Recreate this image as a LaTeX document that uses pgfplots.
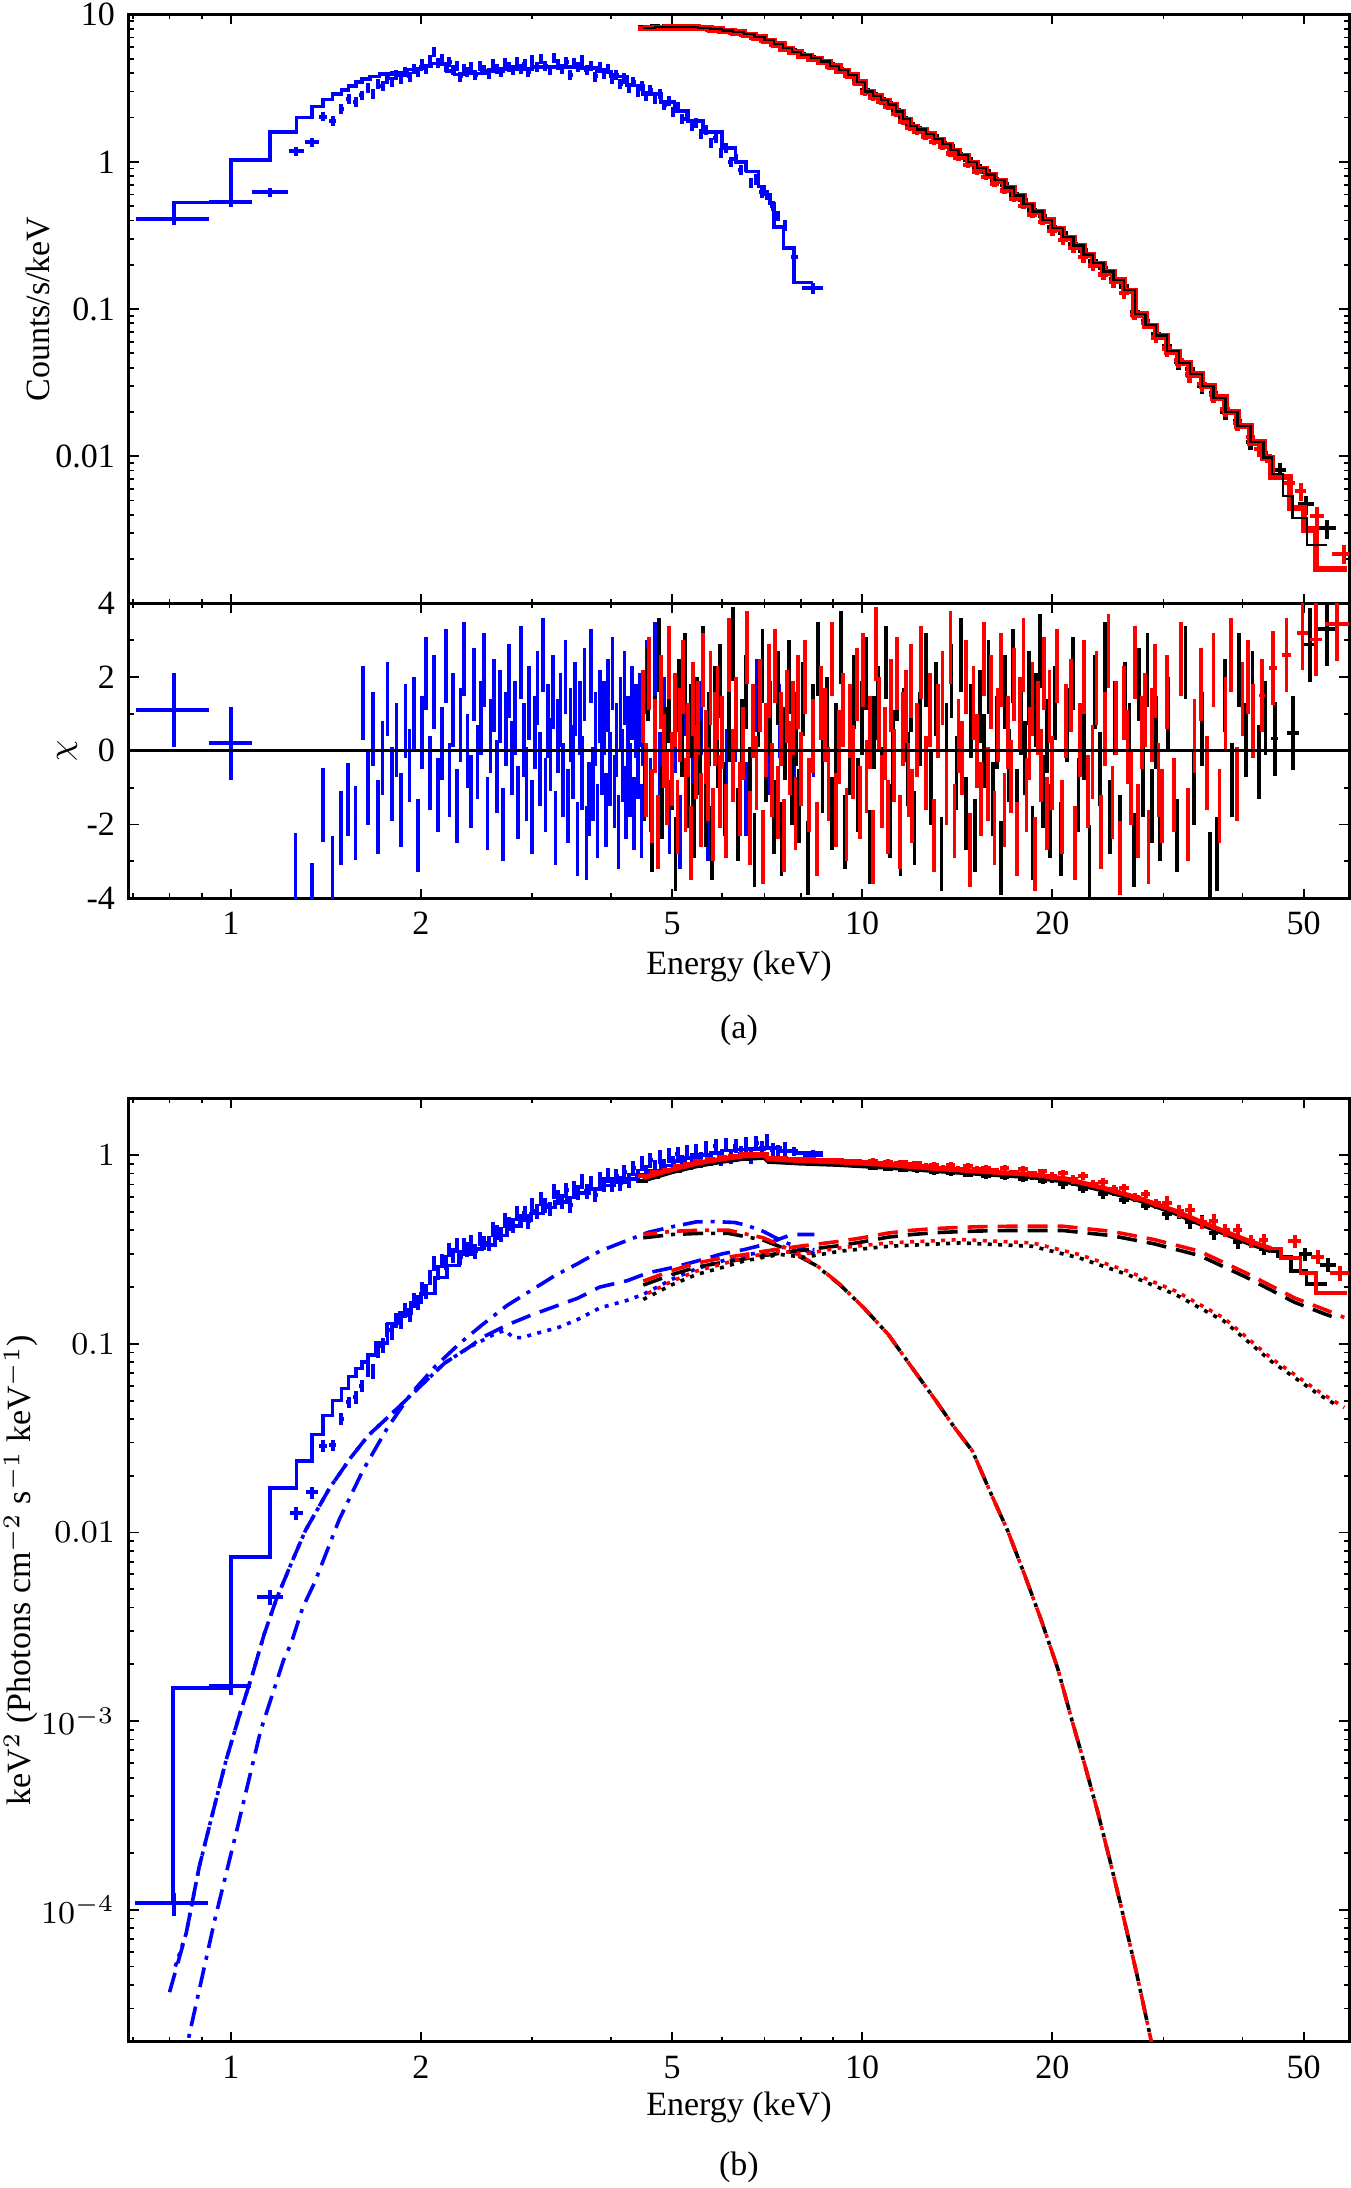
\documentclass[border=0pt]{standalone}
\usepackage{fontspec}
\setmainfont{Liberation Serif}
\usepackage{pgfplots}
\usepackage{pgfplotstable}
\pgfplotsset{compat=1.18}
\pgfplotsset{error bars/draw error bar/.code 2 args={\draw[/pgfplots/every error bar] #1 -- #2;}}
\definecolor{xb}{rgb}{0,0,1}
\definecolor{xr}{rgb}{1,0,0}
\newcommand{\fs}{\fontsize{8.5}{10}\selectfont}

% ---------------- TOP PANEL -----------------
\pgfplotstableread{
E C
1.65 3.2
1.68 2.9
1.71 3.4
1.74 3.3
1.77 3.7
1.80 3.5
1.83 3.9
1.86 3.7
1.89 4.1
1.92 3.8
1.95 4.3
1.98 4.1
2.01 4.6
2.04 4.3
2.07 4.9
2.10 5.6
2.13 4.7
2.16 5.0
2.19 4.4
2.22 4.8
2.25 4.2
2.28 4.5
2.31 3.8
2.34 4.3
2.37 4.1
2.40 4.4
2.44 3.9
2.48 4.5
2.52 4.2
2.56 4.0
2.60 4.6
2.64 4.3
2.68 4.1
2.72 4.7
2.76 4.4
2.80 4.2
2.84 4.8
2.88 4.3
2.92 4.6
2.96 4.1
3.00 4.9
3.05 4.4
3.10 5.0
3.15 4.5
3.20 4.2
3.25 5.1
3.30 4.6
3.35 4.3
3.40 4.8
3.45 3.9
3.50 4.7
3.55 4.4
3.60 4.9
3.66 4.2
3.72 4.5
3.78 3.8
3.84 4.4
3.90 4.0
3.96 4.3
4.02 3.7
4.08 3.9
4.14 3.4
4.20 3.7
4.27 3.2
4.34 3.5
4.41 3.0
4.48 3.3
4.55 2.8
4.62 3.1
4.70 2.7
4.78 2.9
4.86 2.45
4.94 2.6
5.02 2.2
5.10 2.35
5.19 1.95
5.28 2.05
5.37 1.75
5.46 1.85
5.56 1.55
5.66 1.65
5.76 1.35
5.86 1.45
5.97 1.15
6.08 1.25
6.19 1.0
6.30 1.05
6.42 0.88
6.54 0.92
6.67 0.72
6.80 0.76
6.93 0.62
7.07 0.60
7.21 0.50
7.35 0.43
7.54 0.37
}\tBT

\pgfplotstableread{
E C em ep ey
0.813 0.41 0.106 0.110 0.035
1.0 0.537 0.077 0.080 0.04
1.153 0.619 0.073 0.077 0.045
1.27 1.18 0.035 0.035 0.09
1.344 1.36 0.035 0.035 0.1
1.401 2.03 0.02 0.02 0.15
1.45 1.905 0.02 0.02 0.15
1.497 2.30 0.015 0.015 0.18
1.537 2.68 0.015 0.015 0.2
1.578 2.55 0.015 0.015 0.2
1.613 2.85 0.015 0.015 0.2
7.80 0.225 0.10 0.12 0.02
8.37 0.138 0.35 0.30 0.012
}\tBTw

\pgfplotstableread{
E C
0.707 0.41
0.813 0.53
1.0 1.03
1.153 1.60
1.27 2.0
1.344 2.37
1.40 2.65
1.45 2.88
1.497 3.07
1.537 3.26
1.578 3.47
1.613 3.65
1.66 3.8
1.72 3.95
1.80 4.05
1.90 4.25
2.00 4.45
2.08 4.65
2.14 4.6
2.20 4.15
2.26 3.93
2.35 3.98
2.5 4.13
2.7 4.28
3.0 4.4
3.3 4.42
3.55 4.35
3.8 4.1
4.0 3.8
4.24 3.3
4.5 2.9
4.8 2.55
5.04 2.22
5.3 1.9
5.6 1.6
6.0 1.24
6.3 1.0
6.56 0.86
6.85 0.68
7.0 0.60
7.14 0.52
7.25 0.36
7.5 0.26
7.8 0.151
8.37 0.151
}\tBTm

\pgfplotstableread{
E C ey
4.5 8.25 0.02
4.7 8.3 0.02
4.9 8.35 0.02
5.1 8.3 0.02
5.3 8.3 0.02
5.5 8.2 0.02
5.75 8.1 0.02
6.0 7.85 0.02
6.25 7.7 0.02
6.5 7.4 0.02
6.75 7.15 0.02
7.0 6.75 0.02
7.25 6.4 0.02
7.5 5.95 0.02
7.75 5.7 0.02
8.0 5.35 0.02
8.3 5.15 0.02
8.6 4.85 0.02
8.9 4.6 0.02
9.2 4.25 0.02
9.5 3.95 0.02
9.8 3.55 0.02
10.1 3.05 0.05
10.4 2.9 0.05
10.7 2.65 0.05
11.0 2.5 0.05
11.3 2.25 0.05
11.6 1.98 0.05
11.9 1.80 0.05
12.2 1.70 0.05
12.6 1.57 0.05
13.0 1.49 0.05
13.4 1.34 0.05
13.8 1.27 0.05
14.2 1.12 0.05
14.7 1.04 0.05
15.2 0.93 0.05
15.7 0.86 0.05
16.2 0.76 0.05
16.8 0.70 0.05
17.4 0.60 0.05
18.0 0.55 0.05
18.6 0.47 0.05
19.3 0.43 0.05
20.0 0.36 0.08
20.8 0.33 0.08
21.6 0.275 0.08
22.4 0.25 0.08
23.2 0.21 0.08
24.1 0.19 0.08
25.0 0.16 0.08
26.0 0.142 0.08
27.0 0.095 0.08
28.1 0.083 0.08
29.2 0.067 0.08
30.4 0.056 0.12
31.7 0.044 0.12
33.0 0.039 0.12
34.5 0.030 0.12
36.0 0.027 0.12
37.6 0.020 0.12
39.3 0.0172 0.12
41.2 0.0125 0.12
43.2 0.0105 0.12
}\tKT

\pgfplotstableread{
E C ex ey
45.9 0.008 1.0 0.12
50.4 0.0047 1.5 0.15
54.4 0.00323 1.9 0.15
}\tKTw

\pgfplotstableread{
E C ey
4.5 8.05 0.02
4.7 8.1 0.02
4.9 8.15 0.02
5.1 8.15 0.02
5.3 8.1 0.02
5.5 8.05 0.02
5.75 7.9 0.02
6.0 7.7 0.02
6.25 7.5 0.02
6.5 7.25 0.02
6.75 6.95 0.02
7.0 6.6 0.02
7.25 6.2 0.02
7.5 5.8 0.02
7.75 5.5 0.02
8.0 5.2 0.02
8.3 4.95 0.02
8.6 4.7 0.02
8.9 4.42 0.02
9.2 4.12 0.02
9.5 3.82 0.02
9.8 3.42 0.02
10.1 2.95 0.05
10.4 2.72 0.05
10.7 2.55 0.05
11.0 2.36 0.05
11.3 2.12 0.05
11.6 1.88 0.05
11.9 1.70 0.05
12.2 1.60 0.05
12.6 1.49 0.05
13.0 1.36 0.05
13.4 1.27 0.05
13.8 1.14 0.05
14.2 1.06 0.05
14.7 0.95 0.05
15.2 0.86 0.05
15.7 0.79 0.05
16.2 0.71 0.05
16.8 0.64 0.05
17.4 0.56 0.05
18.0 0.50 0.05
18.6 0.44 0.05
19.3 0.39 0.05
20.0 0.34 0.08
20.8 0.295 0.08
21.6 0.26 0.08
22.4 0.225 0.08
23.2 0.198 0.08
24.1 0.172 0.08
25.0 0.152 0.08
26.0 0.128 0.08
27.0 0.091 0.08
28.1 0.080 0.08
29.2 0.064 0.08
30.4 0.054 0.12
31.7 0.045 0.12
33.0 0.036 0.12
34.5 0.031 0.12
36.0 0.026 0.12
37.6 0.021 0.12
39.3 0.0168 0.12
41.2 0.0135 0.12
42.5 0.0112 0.12
}\tRT

\pgfplotstableread{
E C ex ey
44.2 0.0093 0.8 0.12
47.5 0.0066 0.9 0.13
49.5 0.0058 1.0 0.14
52.5 0.00394 1.3 0.15
58.0 0.00218 2.5 0.15
}\tRTw

\pgfplotstableread{
E C
4.5 8.15
4.7 8.2
4.9 8.25
5.1 8.25
5.3 8.22
5.5 8.15
5.75 8.0
6.0 7.8
6.25 7.6
6.5 7.35
6.75 7.05
7.0 6.7
7.25 6.3
7.5 5.9
7.75 5.6
8.0 5.3
8.3 5.05
8.6 4.8
8.9 4.5
9.2 4.2
9.5 3.9
9.8 3.5
10.1 3.0
10.4 2.8
10.7 2.62
11.0 2.45
11.3 2.2
11.6 1.95
11.9 1.75
12.2 1.66
12.6 1.55
13.0 1.43
13.4 1.32
13.8 1.21
14.2 1.11
14.7 1.0
15.2 0.91
15.7 0.82
16.2 0.75
16.8 0.67
17.4 0.59
18.0 0.52
18.6 0.46
19.3 0.405
20.0 0.355
20.8 0.31
21.6 0.27
22.4 0.235
23.2 0.205
24.1 0.18
25.0 0.158
26.0 0.135
27.0 0.093
28.1 0.078
29.2 0.066
30.4 0.052
31.7 0.043
33.0 0.036
34.5 0.030
36.0 0.025
37.6 0.020
39.3 0.016
41.2 0.0125
43.2 0.0098
44.5 0.0076
46.4 0.0054
48.0 0.0038
50.6 0.0025
54.4 0.0025
}\tKTm

\pgfplotstableread{
E C
4.5 8.1
4.7 8.15
4.9 8.2
5.1 8.2
5.3 8.17
5.5 8.1
5.75 7.95
6.0 7.75
6.25 7.55
6.5 7.3
6.75 7.0
7.0 6.65
7.25 6.25
7.5 5.85
7.75 5.55
8.0 5.25
8.3 5.0
8.6 4.75
8.9 4.45
9.2 4.15
9.5 3.86
9.8 3.46
10.1 2.97
10.4 2.77
10.7 2.6
11.0 2.42
11.3 2.18
11.6 1.93
11.9 1.73
12.2 1.64
12.6 1.53
13.0 1.41
13.4 1.3
13.8 1.19
14.2 1.09
14.7 0.98
15.2 0.895
15.7 0.81
16.2 0.74
16.8 0.66
17.4 0.58
18.0 0.51
18.6 0.455
19.3 0.40
20.0 0.35
20.8 0.305
21.6 0.266
22.4 0.232
23.2 0.202
24.1 0.177
25.0 0.156
26.0 0.133
27.0 0.092
28.1 0.077
29.2 0.065
30.4 0.051
31.7 0.043
33.0 0.036
34.5 0.030
36.0 0.025
37.6 0.020
39.3 0.016
41.2 0.0124
43.2 0.0097
44.5 0.0072
47.6 0.00445
50.1 0.00317
52.3 0.00171
58.5 0.00171
}\tRTm

% ---------------- RESIDUALS -----------------
\pgfplotstableread{
E X em ep
0.813 1.1 0.106 0.110
1.0 0.2 0.077 0.080
}\tBRw

\pgfplotstableread{
E X
1.266 -3.22
1.344 -4.05
1.40 -1.47
1.45 -3.32
1.495 -2.09
1.533 -1.32
1.577 -1.95
1.62 1.3
1.65 -1.0
1.68 0.6
1.71 -1.8
1.74 -0.2
1.77 1.4
1.80 -0.9
1.83 0.3
1.86 -1.6
1.89 0.8
1.92 -0.4
1.95 1.0
1.98 -2.3
2.01 0.5
2.04 2.1
2.07 -0.6
2.10 1.6
2.13 -1.2
2.16 0.2
2.19 2.3
2.22 -0.8
2.25 1.1
2.28 -1.5
2.31 0.7
2.34 2.5
2.37 0.0
2.40 -1.1
2.43 1.8
2.46 -0.3
2.49 0.9
2.52 2.2
2.55 -1.7
2.58 0.4
2.61 1.5
2.64 -0.7
2.67 1.2
2.70 -2.0
2.73 0.6
2.76 1.9
2.79 -0.2
2.82 0.9
2.85 -1.4
2.88 2.4
2.91 0.3
2.94 -0.9
2.97 1.3
3.00 -1.8
3.03 0.5
3.06 1.7
3.09 -0.5
3.12 2.6
3.15 -1.2
3.18 0.8
3.21 -0.1
3.24 1.6
3.27 -2.1
3.30 0.4
3.33 1.1
3.36 -0.8
3.39 2.0
3.42 -1.5
3.45 0.7
3.48 -0.3
3.51 1.4
3.54 -2.4
3.57 0.9
3.60 -0.6
3.63 1.8
3.66 -2.5
3.69 -1.3
3.72 2.3
3.75 -0.9
3.78 0.6
3.81 -1.9
3.84 1.2
3.87 -0.2
3.90 0.9
3.93 -1.6
3.96 1.5
3.99 -0.5
4.02 2.1
4.05 -1.1
4.08 0.3
4.11 -2.2
4.14 1.0
4.17 -0.4
4.20 1.7
4.23 -1.4
4.26 0.5
4.29 -0.8
4.32 1.3
4.35 -1.7
4.38 0.8
4.41 -0.3
4.44 1.1
4.47 -1.9
4.50 0.6
4.56 2.0
4.62 -1.2
4.70 2.5
4.78 -0.5
4.86 1.0
4.95 -1.8
5.05 0.4
5.15 -2.2
5.25 1.4
5.40 -0.6
5.55 0.9
5.70 -2.0
5.90 1.2
6.10 -0.4
6.30 0.7
6.55 -1.3
6.80 1.5
7.10 -0.2
7.40 0.8
7.80 -0.5
8.37 0.3
}\tBR

\pgfplotstableread{
E X
4.52 -0.9
4.58 1.8
4.64 -2.3
4.70 0.5
4.76 2.6
4.82 -1.4
4.88 0.2
4.94 1.2
5.00 -0.6
5.06 -2.8
5.12 1.5
5.18 0.3
5.24 2.2
5.30 -1.1
5.36 0.8
5.42 -1.9
5.48 1.0
5.54 -0.2
5.60 2.4
5.66 -1.6
5.72 0.6
5.78 -2.5
5.84 1.3
5.90 0.0
5.96 1.9
6.05 -1.3
6.15 0.7
6.25 2.9
6.35 -2.0
6.45 0.4
6.55 1.6
6.65 -0.9
6.75 -2.7
6.85 1.1
6.95 2.3
7.05 -0.4
7.15 0.9
7.25 -1.8
7.35 1.7
7.45 -2.4
7.55 0.2
7.65 2.0
7.75 -1.0
7.85 0.6
7.95 -1.5
8.05 1.4
8.20 -2.9
8.35 0.8
8.50 2.5
8.65 -0.7
8.80 1.0
8.95 -1.7
9.10 0.3
9.25 2.8
9.40 -2.2
9.55 -0.2
9.70 1.6
9.85 -1.2
10.00 0.9
10.15 2.1
10.30 -2.6
10.45 0.5
10.60 1.3
10.75 -0.9
10.90 2.4
11.05 -1.9
11.20 0.1
11.35 1.8
11.50 -2.4
11.65 0.7
11.80 -0.5
11.95 1.5
12.10 -2.1
12.35 0.6
12.60 2.2
12.85 -1.0
13.10 1.4
13.35 -2.8
13.60 0.3
13.85 1.9
14.10 -0.6
14.35 2.6
14.60 -1.7
14.85 0.8
15.10 -2.3
15.35 1.2
15.60 0.0
15.85 2.0
16.10 -1.3
16.35 0.5
16.60 -2.9
16.85 1.6
17.10 -0.4
17.35 2.3
17.60 -1.5
17.85 0.9
18.10 -0.2
18.35 1.7
18.60 -2.5
18.85 1.1
19.10 2.7
19.35 -1.1
19.60 0.4
19.85 -1.9
20.20 1.3
20.65 -2.4
21.10 0.7
21.55 2.1
22.00 -1.2
22.45 0.2
22.90 -3.0
23.35 1.6
23.80 -0.5
24.25 2.5
24.70 -1.8
25.15 0.9
25.60 -2.2
26.05 1.4
26.50 0.3
26.95 -2.7
27.40 1.8
27.85 -0.8
28.30 2.2
28.75 -1.5
29.20 0.5
29.65 -2.0
30.5 1.0
31.5 -2.3
32.5 2.4
33.5 -1.0
34.5 0.6
35.5 -3.2
36.5 -2.8
37.5 1.5
38.5 -0.8
39.5 2.2
40.5 0.3
41.5 1.7
42.5 -0.3
43.5 0.9
}\tKR

\pgfplotstableread{
E X ex
45.0 0.33 0.6
48.1 0.49 1.0
51.2 2.88 1.2
54.5 3.3 2.0
}\tKRw

\pgfplotstableread{
E X
4.50 1.2
4.55 -0.8
4.60 2.1
4.65 -1.5
4.70 0.4
4.75 -2.2
4.80 1.6
4.85 0.0
4.90 -1.0
4.95 2.4
5.00 -0.5
5.05 1.1
5.10 -1.8
5.15 0.7
5.20 2.0
5.25 -1.2
5.30 0.3
5.35 -2.5
5.40 1.4
5.45 -0.3
5.50 0.9
5.55 -1.6
5.60 2.2
5.65 0.1
5.70 -0.9
5.75 1.7
5.80 -2.0
5.85 0.6
5.90 1.3
5.95 -1.1
6.00 0.5
6.08 -1.9
6.16 2.6
6.24 -0.4
6.32 1.0
6.40 -1.3
6.48 0.2
6.56 2.8
6.64 -2.1
6.72 0.8
6.80 -0.6
6.88 1.5
6.96 -2.6
7.04 0.3
7.12 1.9
7.20 -0.8
7.28 2.3
7.36 -1.4
7.44 0.6
7.52 -2.3
7.60 1.2
7.68 -0.2
7.76 0.9
7.84 -1.7
7.92 1.6
8.00 -0.5
8.12 2.0
8.24 -1.2
8.36 0.4
8.48 -2.4
8.60 1.3
8.72 0.7
8.84 -0.9
8.96 2.5
9.08 -1.6
9.20 0.1
9.32 1.1
9.44 -2.0
9.56 0.8
9.68 -0.3
9.80 1.8
9.92 -1.4
10.04 2.2
10.16 -0.7
10.28 0.5
10.40 -2.6
10.52 2.9
10.64 1.0
10.76 -1.1
10.88 0.2
11.00 -1.8
11.12 1.5
11.24 -0.4
11.36 2.1
11.48 -2.2
11.60 0.6
11.72 1.2
11.84 -0.8
11.96 1.9
12.0 -1.5
12.2 0.3
12.4 2.4
12.6 -0.6
12.8 1.1
13.0 -2.3
13.2 0.8
13.4 1.7
13.6 -1.0
13.8 2.8
14.0 -1.9
14.2 0.4
14.4 -0.2
14.6 2.0
14.8 -2.7
15.0 1.3
15.2 0.0
15.4 -1.3
15.6 2.5
15.8 -0.9
16.0 1.6
16.2 -2.1
16.4 0.7
16.6 2.2
16.8 -1.6
17.0 0.5
17.2 -0.7
17.4 1.8
17.6 -2.4
17.8 1.0
18.0 2.6
18.2 -1.2
18.4 0.2
18.6 1.4
18.8 -2.8
19.0 0.9
19.2 -0.4
19.4 2.1
19.6 -1.7
19.8 1.2
20.00 -0.6
20.35 2.3
20.70 -1.8
21.05 0.8
21.40 1.5
21.75 -2.5
22.10 0.3
22.45 2.0
22.80 -1.1
23.15 -0.3
23.50 1.7
23.85 -2.2
24.20 0.6
24.55 2.7
24.90 -1.4
25.25 0.9
25.60 -2.9
25.95 1.3
26.30 0.1
26.65 -1.0
27.00 2.4
27.35 -1.9
27.70 0.5
28.05 1.1
28.40 -2.6
28.75 0.7
29.10 1.9
29.45 -0.8
29.80 -1.5
30.4 1.6
31.2 -1.2
32.0 2.5
32.8 -2.0
33.6 0.4
34.4 1.8
35.2 -0.6
36.0 2.2
36.8 -1.5
37.6 1.0
38.4 2.6
39.2 -0.9
40.0 1.4
40.8 2.0
41.6 0.8
}\tRR

\pgfplotstableread{
E X ex
43.0 1.5 0.5
44.7 2.25 0.6
47.0 2.6 0.8
49.8 3.2 1.0
52.3 3.02 1.2
56.5 3.44 2.5
}\tRRw

% ---------------- BOTTOM PANEL -----------------
\pgfplotstableread{
E F
1.65 0.073
1.68 0.072
1.71 0.092
1.74 0.098
1.77 0.119
1.80 0.115
1.83 0.134
1.86 0.132
1.89 0.151
1.92 0.143
1.95 0.170
1.98 0.167
2.01 0.196
2.04 0.19
2.07 0.225
2.10 0.269
2.13 0.240
2.16 0.276
2.19 0.270
2.22 0.316
2.25 0.295
2.28 0.333
2.31 0.288
2.34 0.332
2.37 0.318
2.40 0.347
2.44 0.311
2.48 0.361
2.52 0.344
2.56 0.341
2.60 0.406
2.64 0.391
2.68 0.382
2.72 0.454
2.76 0.434
2.80 0.424
2.84 0.493
2.88 0.450
2.92 0.494
2.96 0.447
3.00 0.546
3.05 0.506
3.10 0.588
3.15 0.545
3.20 0.521
3.25 0.646
3.30 0.598
3.35 0.571
3.40 0.652
3.45 0.542
3.50 0.670
3.55 0.636
3.60 0.728
3.66 0.644
3.72 0.714
3.78 0.618
3.84 0.744
3.90 0.700
3.96 0.781
4.02 0.700
4.08 0.775
4.14 0.712
4.20 0.811
4.27 0.741
4.34 0.857
4.41 0.780
4.48 0.909
4.55 0.811
4.62 0.942
4.70 0.869
4.78 0.983
4.86 0.878
4.94 0.996
5.02 0.907
5.10 1.02
5.19 0.917
5.28 1.04
5.37 0.944
5.46 1.055
5.56 0.958
5.66 1.09
5.76 0.96
5.86 1.116
5.97 0.961
6.08 1.137
6.19 0.993
6.30 1.125
6.42 1.021
6.54 1.145
6.67 0.985
6.80 1.161
6.93 1.088
7.07 1.183
7.21 1.07
7.35 1.034
7.54 1.08
}\tBB

\pgfplotstableread{
E F em ep ey
0.812 1.08e-4 0.107 0.108 1.5e-5
1.0 1.53e-3 0.075 0.076 1.5e-4
1.153 4.55e-3 0.053 0.057 4e-4
1.27 0.0127 0.03 0.03 1e-3
1.344 0.0163 0.03 0.03 1.2e-3
1.40 0.0288 0.02 0.02 2e-3
1.45 0.029 0.02 0.02 2e-3
1.497 0.040 0.015 0.015 3e-3
1.537 0.049 0.015 0.015 3.5e-3
1.578 0.052 0.015 0.015 4e-3
1.613 0.060 0.015 0.015 4.5e-3
7.80 1.05 0.10 0.12 0.06
8.37 1.0 0.30 0.30 0.06
}\tBBw

\pgfplotstableread{
E F
0.705 1.08e-4
0.81 1.5e-3
1.0 7.4e-3
1.153 0.0172
1.27 0.024
1.344 0.033
1.40 0.0417
1.45 0.050
1.497 0.058
1.537 0.067
1.578 0.074
1.613 0.080
1.65 0.087
1.70 0.101
1.77 0.128
1.85 0.146
1.93 0.166
2.0 0.185
2.105 0.225
2.2 0.26
2.3 0.30
2.4 0.318
2.5 0.335
2.62 0.376
2.74 0.42
2.87 0.455
2.99 0.49
3.12 0.527
3.26 0.565
3.4 0.598
3.55 0.63
3.7 0.66
3.88 0.69
4.05 0.72
4.24 0.75
4.4 0.79
4.6 0.83
4.8 0.88
5.04 0.93
5.25 0.965
5.5 1.0
5.75 1.03
6.0 1.06
6.28 1.07
6.56 1.08
7.0 1.09
7.41 1.05
7.8 1.03
8.67 1.03
}\tBBm

\pgfplotstableread{
E F ey
4.5 .775 0.02
4.7 .81 0.02
4.9 .84 0.02
5.1 .875 0.02
5.3 .90 0.02
5.5 .93 0.02
5.75 .955 0.02
6.0 .975 0.02
6.25 .995 0.02
6.5 1.01 0.02
6.75 1.015 0.02
7.0 1.02 0.02
7.25 .97 0.02
7.5 .965 0.02
7.75 .96 0.02
8.0 .955 0.02
8.3 .95 0.02
8.6 .945 0.02
8.9 .945 0.02
9.2 .94 0.02
9.5 .93 0.02
9.8 .935 0.02
10.1 .915 0.035
10.4 .93 0.035
10.7 .905 0.035
11.0 .92 0.035
11.3 .895 0.035
11.6 .915 0.035
11.9 .885 0.035
12.2 .905 0.035
12.6 .875 0.035
13.0 .89 0.035
13.4 .86 0.035
13.8 .885 0.035
14.2 .85 0.035
14.7 .875 0.035
15.2 .845 0.035
15.7 .86 0.035
16.2 .83 0.035
16.8 .855 0.035
17.4 .81 0.035
18.0 .845 0.035
18.6 .80 0.035
19.3 .82 0.035
20.0 .775 0.05
20.8 .80 0.05
21.6 .745 0.05
22.4 .775 0.05
23.2 .705 0.05
24.1 .72 0.05
25.0 .66 0.05
26.0 .67 0.05
27.0 .60 0.05
28.1 .625 0.05
29.2 .56 0.05
30.4 .56 0.08
31.7 .505 0.08
33.0 .51 0.08
34.5 .44 0.08
36.0 .45 0.08
37.6 .40 0.08
39.3 .40 0.08
41.2 .35 0.08
43.2 .355 0.08
}\tRB

\pgfplotstableread{
E F ex ey
48.4 .35 1.2 0.08
52.6 .29 1.3 0.09
57.0 .238 2.0 0.09
}\tRBw

\pgfplotstableread{
E F ey
4.5 .73 0.02
4.7 .765 0.02
4.9 .80 0.02
5.1 .825 0.02
5.3 .86 0.02
5.5 .88 0.02
5.75 .905 0.02
6.0 .93 0.02
6.25 .945 0.02
6.5 .955 0.02
6.75 .97 0.02
7.0 .97 0.02
7.25 .92 0.02
7.5 .92 0.02
7.75 .91 0.02
8.0 .905 0.02
8.3 .905 0.02
8.6 .895 0.02
8.9 .90 0.02
9.2 .89 0.02
9.5 .89 0.02
9.8 .875 0.02
10.1 .885 0.035
10.4 .86 0.035
10.7 .875 0.035
11.0 .85 0.035
11.3 .865 0.035
11.6 .84 0.035
11.9 .855 0.035
12.2 .83 0.035
12.6 .845 0.035
13.0 .815 0.035
13.4 .83 0.035
13.8 .80 0.035
14.2 .82 0.035
14.7 .79 0.035
15.2 .81 0.035
15.7 .775 0.035
16.2 .80 0.035
16.8 .765 0.035
17.4 .79 0.035
18.0 .75 0.035
18.6 .77 0.035
19.3 .73 0.035
20.0 .75 0.05
20.8 .70 0.05
21.6 .725 0.05
22.4 .66 0.05
23.2 .69 0.05
24.1 .62 0.05
25.0 .64 0.05
26.0 .58 0.05
27.0 .595 0.05
28.1 .54 0.05
29.2 .545 0.05
30.4 .49 0.08
31.7 .50 0.08
33.0 .44 0.08
34.5 .445 0.08
36.0 .385 0.08
37.6 .40 0.08
39.3 .345 0.08
41.2 .35 0.08
43.2 .32 0.08
}\tKB

\pgfplotstableread{
E F ex ey
50.3 .30 1.2 0.08
54.6 .263 1.6 0.09
}\tKBw

\pgfplotstableread{
E F
4.5 0.76
5.0 0.84
5.5 0.91
6.0 0.955
6.5 0.99
7.0 1.0
7.1 0.955
8.0 0.935
9.2 0.92
11 0.89
13.1 0.85
15.5 0.82
18.6 0.79
21 0.75
24.1 0.67
27.5 0.59
31.4 0.505
34 0.45
37.4 0.395
41 0.35
44.4 0.32
}\tRBm

\pgfplotstableread{
E F
44.4 0.32
46.0 0.286
49.4 0.238
52.3 0.186
58.5 0.186
}\tRBs

\pgfplotstableread{
E F
4.5 0.735
5.0 0.815
5.5 0.88
6.0 0.925
6.5 0.96
7.0 0.97
7.1 0.925
8.0 0.905
9.2 0.89
11 0.86
13.1 0.825
15.5 0.795
18.6 0.765
21 0.725
24.1 0.65
27.5 0.575
31.4 0.49
34 0.437
37.4 0.385
41 0.34
44.4 0.31
}\tKBm

\pgfplotstableread{
E F
44.4 0.31
45.5 0.29
47.7 0.243
50.5 0.207
54.5 0.207
}\tKBs

% components, blue
\pgfplotstableread{
E F
0.84 1.5e-5
0.855 2e-5
0.943 8.8e-5
1.025 2.74e-4
1.115 8.9e-4
1.212 2.1e-3
1.247 2.6e-3
1.30 4.0e-3
1.36 5.5e-3
1.485 0.0117
1.62 0.0214
1.77 0.0358
1.93 0.0545
2.105 0.0756
2.3 0.10
2.5 0.126
2.74 0.16
2.99 0.192
3.26 0.23
3.55 0.267
3.84 0.31
4.24 0.353
4.58 0.39
5.04 0.42
5.46 0.443
5.81 0.445
6.28 0.44
6.56 0.425
6.97 0.395
7.41 0.355
7.8 0.33
8.4 0.30
}\cBA

\pgfplotstableread{
E F
0.80 3.66e-5
0.85 7.5e-5
0.891 1.68e-4
0.935 3.2e-4
0.983 6.2e-4
1.03 1.05e-3
1.084 1.8e-3
1.13 2.9e-3
1.18 4.4e-3
1.25 7.0e-3
1.314 0.0103
1.434 0.0172
1.55 0.025
1.65 0.0326
1.83 0.045
2.0 0.06
2.18 0.079
2.38 0.0955
2.5 0.108
2.74 0.126
2.99 0.142
3.55 0.175
3.84 0.2
4.24 0.216
4.58 0.238
5.04 0.255
5.46 0.274
6.0 0.30
6.5 0.316
7.1 0.34
7.4 0.36
7.74 0.38
8.4 0.38
}\cBB

\pgfplotstableread{
E F
0.817 5e-5
0.85 7.5e-5
0.891 1.68e-4
0.935 3.2e-4
0.983 6.2e-4
1.03 1.05e-3
1.084 1.8e-3
1.13 2.9e-3
1.18 4.4e-3
1.25 7.0e-3
1.314 0.0103
1.434 0.0172
1.55 0.025
1.65 0.0326
1.83 0.045
2.0 0.06
2.18 0.079
2.38 0.0955
2.5 0.104
2.62 0.113
2.72 0.118
2.8 0.108
2.9 0.108
3.0 0.112
3.3 0.122
3.55 0.135
3.84 0.155
4.24 0.17
4.5 0.183
5.0 0.22
5.46 0.25
6.0 0.275
6.5 0.295
7.1 0.31
7.5 0.325
8.4 0.315
}\cBC

% components, NuSTAR
\pgfplotstableread{
E F
4.5 0.38
5.0 0.395
5.5 0.40
6.15 0.40
6.97 0.365
7.4 0.335
7.74 0.31
8.44 0.263
9.23 0.206
10.06 0.155
11.0 0.112
12.0 0.0745
13.1 0.0496
14.0 0.036
14.95 0.027
16.0 0.016
17.0 0.0102
18.0 6.2e-3
19.2 3.45e-3
20.4 1.9e-3
21.5 1.0e-3
22.5 5.9e-4
23.6 3.3e-4
24.7 1.8e-4
25.7 1.04e-4
27.2 4.6e-5
28.7 2e-5
29.5 1.3e-5
}\cRA

\pgfplotstableread{
E F
4.5 0.365
5.0 0.38
5.5 0.385
6.15 0.385
6.97 0.355
7.4 0.328
7.74 0.305
8.44 0.261
9.23 0.205
10.06 0.155
11.0 0.112
12.0 0.0745
13.1 0.0496
14.0 0.036
14.95 0.027
16.0 0.016
17.0 0.0102
18.0 6.2e-3
19.2 3.45e-3
20.4 1.9e-3
21.5 1.0e-3
22.5 5.9e-4
23.6 3.3e-4
24.7 1.8e-4
25.7 1.04e-4
27.2 4.6e-5
28.7 2e-5
29.5 1.3e-5
}\cKA

\pgfplotstableread{
E F
4.5 0.215
5.0 0.245
5.46 0.268
6.0 0.285
6.5 0.297
7.0 0.31
7.5 0.32
8.0 0.33
9.23 0.35
10.0 0.365
11.0 0.387
12.0 0.40
13.1 0.409
15.0 0.417
17.0 0.42
20.8 0.42
24.8 0.395
29.0 0.357
34.2 0.31
40.5 0.238
48.4 0.175
54.0 0.152
58.0 0.138
}\cRB

\pgfplotstableread{
E F
4.5 0.205
5.0 0.233
5.46 0.255
6.0 0.27
6.5 0.282
7.0 0.294
7.5 0.304
8.0 0.313
9.23 0.332
10.0 0.347
11.0 0.368
12.0 0.38
13.1 0.389
15.0 0.396
17.0 0.399
20.8 0.399
24.8 0.375
29.0 0.339
34.2 0.294
40.5 0.226
48.4 0.166
54.0 0.144
56.0 0.138
}\cKB

\pgfplotstableread{
E F
4.5 0.18
5.0 0.215
5.46 0.243
6.0 0.265
6.5 0.286
7.0 0.30
7.4 0.31
8.1 0.30
9.23 0.323
11.0 0.343
14.3 0.357
18.6 0.343
22.1 0.297
26.3 0.243
31.4 0.19
37.4 0.137
44.4 0.084
52.8 0.056
58.0 0.046
}\cRC

\pgfplotstableread{
E F
4.5 0.172
5.0 0.206
5.46 0.233
6.0 0.254
6.5 0.275
7.0 0.288
7.4 0.298
8.1 0.288
9.23 0.31
11.0 0.329
14.3 0.343
18.6 0.329
22.1 0.285
26.3 0.233
31.4 0.182
37.4 0.132
44.4 0.081
52.8 0.054
56.0 0.048
}\cKC

\begin{document}
\begin{tikzpicture}
\path[use as bounding box] (0,0) rectangle (337.75pt,-547pt);
\pgfplotsset{
  every axis/.append style={
    scale only axis, width=305pt,
    xmode=log, xmin=0.69, xmax=59,
    axis line style={line width=0.75pt},
    major tick length=2.4pt, minor tick length=1.2pt,
    tick style={line width=0.45pt, black},
    xtick={1,2,5,10,20,50},
    minor xtick={0.7,0.8,0.9,3,4,6,7,8,9,30,40},
    tick label style={font=\fs},
    label style={font=\fs},
  },
  ebar/.style={draw=none, mark=none},
}
% ======== TOP ========
\begin{axis}[at={(32.25pt,-3.65pt)}, anchor=north west, height=147.2pt,
  ymode=log, ymin=1e-3, ymax=10,
  ytick={0.001,0.01,0.1,1,10}, yticklabels={,0.01,0.1,1,10},
  minor ytick={0.002,0.003,0.004,0.005,0.006,0.007,0.008,0.009,
    0.02,0.03,0.04,0.05,0.06,0.07,0.08,0.09,
    0.2,0.3,0.4,0.5,0.6,0.7,0.8,0.9,2,3,4,5,6,7,8,9},
  xticklabels={,,,,,},
  ylabel={Counts/s/keV},
  ylabel style={at={(axis description cs:-0.0746,0.5)}, anchor=center},
]
\addplot[xb, ebar, error bars/.cd, x dir=both, x fixed relative=0.008, y dir=both, y fixed relative=0.08,
  error bar style={line width=1.0pt, xb}] table[x=E,y=C] {\tBT};
\addplot[xb, ebar, error bars/.cd, x dir=both, x explicit, y dir=both, y explicit,
  error bar style={line width=1.0pt, xb}] table[x=E,y=C,x error minus=em,x error plus=ep,y error=ey] {\tBTw};
\addplot[xb, line width=0.9pt, const plot mark left, mark=none] table[x=E,y=C] {\tBTm};
\addplot[black, ebar, error bars/.cd, x dir=both, x fixed relative=0.018, y dir=both, y explicit relative,
  error bar style={line width=1.1pt, black}] table[x=E,y=C,y error=ey] {\tKT};
\addplot[black, ebar, error bars/.cd, x dir=both, x explicit, y dir=both, y explicit relative,
  error bar style={line width=1.0pt, black}] table[x=E,y=C,x error=ex,y error=ey] {\tKTw};
\addplot[xr, ebar, error bars/.cd, x dir=both, x fixed relative=0.018, y dir=both, y explicit relative,
  error bar style={line width=1.1pt, xr}] table[x=E,y=C,y error=ey] {\tRT};
\addplot[xr, ebar, error bars/.cd, x dir=both, x explicit, y dir=both, y explicit relative,
  error bar style={line width=1.0pt, xr}] table[x=E,y=C,x error=ex,y error=ey] {\tRTw};
\addplot[xr, line width=1.6pt, const plot mark left, mark=none] table[x=E,y=C] {\tRTm};
\addplot[black, line width=0.55pt, const plot mark left, mark=none] table[x=E,y=C] {\tKTm};
\end{axis}

% ======== RESIDUALS ========
\begin{axis}[at={(32.25pt,-150.85pt)}, anchor=north west, height=73.7pt,
  ymin=-4, ymax=4,
  ytick={-4,-2,0,2,4}, yticklabels={-4,-2,0,2,4},
  minor ytick={-3,-1,1,3},
  xticklabels={1,2,5,10,20,50},
  ylabel={$\chi$},
  ylabel style={at={(axis description cs:-0.0508,0.5)}, anchor=center},
  xlabel={Energy (keV)},
  xlabel style={at={(axis description cs:0.5,-0.2296)}, anchor=center},
  extra description/.code={\node[font=\fs] at (0.5,-0.4466) {(a)};},
]
\addplot[xb, ebar, error bars/.cd, x dir=both, x explicit, y dir=both, y fixed=1,
  error bar style={line width=1.0pt, xb}] table[x=E,y=X,x error minus=em,x error plus=ep] {\tBRw};
\addplot[xb, ebar, error bars/.cd, x dir=both, x fixed relative=0.006, y dir=both, y fixed=1,
  error bar style={line width=0.9pt, xb}] table[x=E,y=X] {\tBR};
\addplot[black, ebar, error bars/.cd, y dir=both, y fixed=1,
  error bar style={line width=0.95pt, black}] table[x=E,y=X] {\tKR};
\addplot[black, ebar, error bars/.cd, x dir=both, x explicit, y dir=both, y fixed=1,
  error bar style={line width=0.9pt, black}] table[x=E,y=X,x error=ex] {\tKRw};
\addplot[xr, ebar, error bars/.cd, y dir=both, y fixed=1,
  error bar style={line width=0.95pt, xr}] table[x=E,y=X] {\tRR};
\addplot[xr, ebar, error bars/.cd, x dir=both, x explicit, y dir=both, y fixed=1,
  error bar style={line width=0.9pt, xr}] table[x=E,y=X,x error=ex] {\tRRw};
\addplot[black, line width=0.75pt] coordinates {(0.6,0) (70,0)};
\end{axis}

% ======== BOTTOM ========
\begin{axis}[at={(32.25pt,-274.6pt)}, anchor=north west, height=235.8pt,
  ymode=log, ymin=2e-5, ymax=2,
  ytick={1e-4,1e-3,0.01,0.1,1},
  yticklabels={$10^{-4}$,$10^{-3}$,$0.01$,$0.1$,$1$},
  minor ytick={3e-5,4e-5,5e-5,6e-5,7e-5,8e-5,9e-5,
    2e-4,3e-4,4e-4,5e-4,6e-4,7e-4,8e-4,9e-4,
    2e-3,3e-3,4e-3,5e-3,6e-3,7e-3,8e-3,9e-3,
    0.02,0.03,0.04,0.05,0.06,0.07,0.08,0.09,
    0.2,0.3,0.4,0.5,0.6,0.7,0.8,0.9,2},
  xticklabels={1,2,5,10,20,50},
  ylabel={keV$^2$ (Photons cm$^{-2}$ s$^{-1}$ keV$^{-1}$)},
  ylabel style={at={(axis description cs:-0.0885,0.5)}, anchor=center},
  xlabel={Energy (keV)},
  xlabel style={at={(axis description cs:0.5,-0.0692)}, anchor=center},
  extra description/.code={\node[font=\fs] at (0.5,-0.1328) {(b)};},
]
\addplot[xb, ebar, error bars/.cd, x dir=both, x fixed relative=0.008, y dir=both, y fixed relative=0.09,
  error bar style={line width=1.0pt, xb}] table[x=E,y=F] {\tBB};
\addplot[xb, ebar, error bars/.cd, x dir=both, x explicit, y dir=both, y explicit,
  error bar style={line width=1.0pt, xb}] table[x=E,y=F,x error minus=em,x error plus=ep,y error=ey] {\tBBw};
\addplot[xb, line width=0.9pt, const plot mark left, mark=none] table[x=E,y=F] {\tBBm};
\addplot[xb, line width=0.9pt, dash pattern=on 5pt off 2pt on 1pt off 2pt] table[x=E,y=F] {\cBA};
\addplot[xb, line width=0.9pt, dash pattern=on 5pt off 2.5pt] table[x=E,y=F] {\cBB};
\addplot[xb, line width=0.9pt, dash pattern=on 1pt off 1.6pt] table[x=E,y=F] {\cBC};
\addplot[black, ebar, error bars/.cd, x dir=both, x fixed relative=0.018, y dir=both, y explicit relative,
  error bar style={line width=1.0pt, black}] table[x=E,y=F,y error=ey] {\tKB};
\addplot[black, ebar, error bars/.cd, x dir=both, x explicit, y dir=both, y explicit relative,
  error bar style={line width=1.0pt, black}] table[x=E,y=F,x error=ex,y error=ey] {\tKBw};
\addplot[black, line width=1.1pt] table[x=E,y=F] {\tKBm};
\addplot[black, line width=0.9pt, const plot mark left] table[x=E,y=F] {\tKBs};
\addplot[xr, ebar, error bars/.cd, x dir=both, x fixed relative=0.018, y dir=both, y explicit relative,
  error bar style={line width=1.0pt, xr}] table[x=E,y=F,y error=ey] {\tRB};
\addplot[xr, ebar, error bars/.cd, x dir=both, x explicit, y dir=both, y explicit relative,
  error bar style={line width=1.0pt, xr}] table[x=E,y=F,x error=ex,y error=ey] {\tRBw};
\addplot[xr, line width=1.2pt] table[x=E,y=F] {\tRBm};
\addplot[xr, line width=0.9pt, const plot mark left] table[x=E,y=F] {\tRBs};
\addplot[black, line width=0.9pt, dash pattern=on 5pt off 2pt on 1pt off 2pt] table[x=E,y=F] {\cKA};
\addplot[xr, line width=0.9pt, dash pattern=on 5pt off 2pt on 1pt off 2pt, dash phase=1.5pt] table[x=E,y=F] {\cRA};
\addplot[black, line width=0.9pt, dash pattern=on 5pt off 2.5pt] table[x=E,y=F] {\cKB};
\addplot[xr, line width=0.9pt, dash pattern=on 5pt off 2.5pt] table[x=E,y=F] {\cRB};
\addplot[black, line width=0.9pt, dash pattern=on 1pt off 1.6pt] table[x=E,y=F] {\cKC};
\addplot[xr, line width=0.9pt, dash pattern=on 1pt off 1.6pt, dash phase=1.3pt] table[x=E,y=F] {\cRC};
\end{axis}
\end{tikzpicture}
\end{document}
